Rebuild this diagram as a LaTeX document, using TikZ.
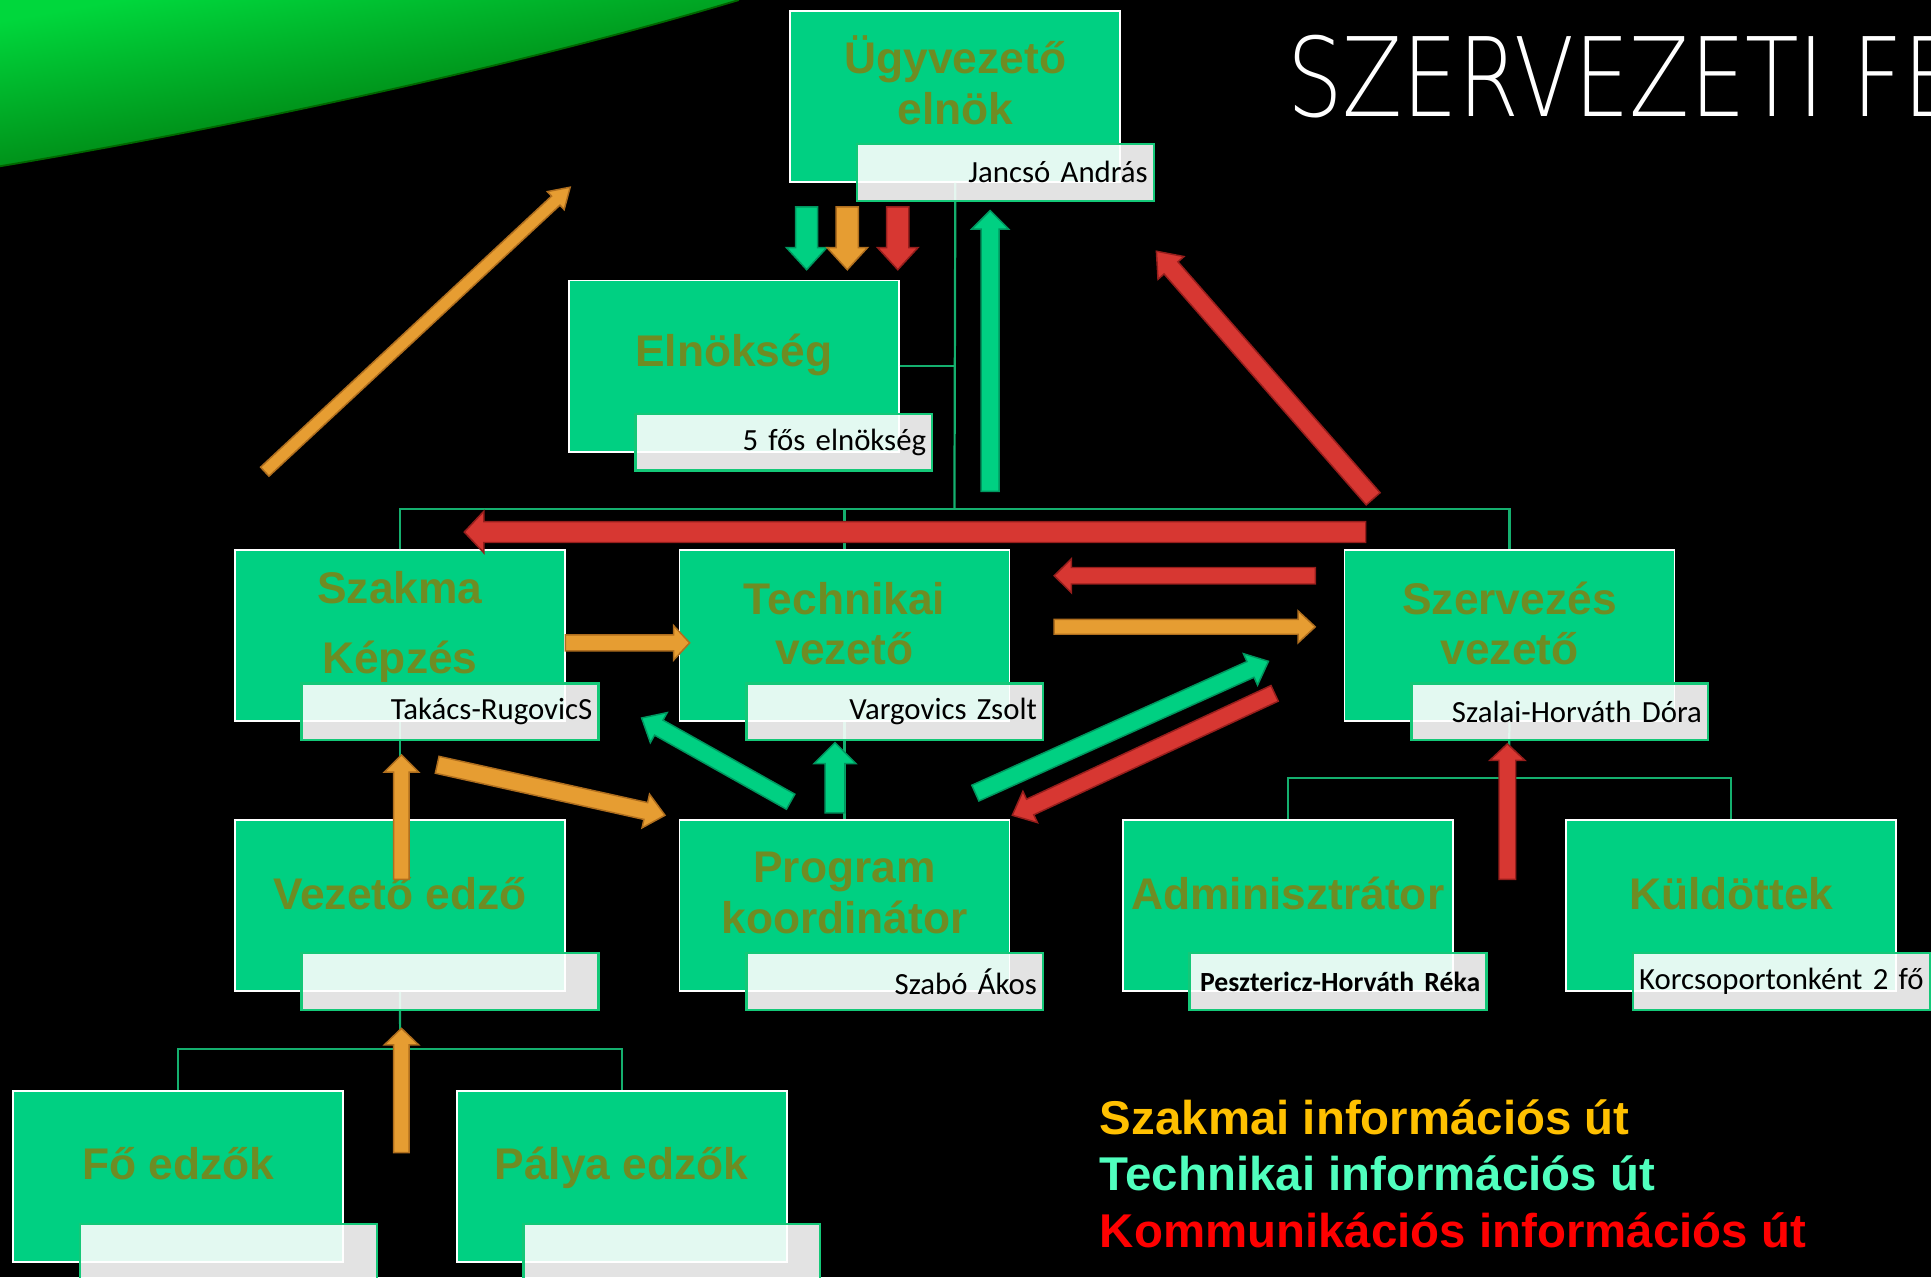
\documentclass[tikz,border=0pt]{standalone}
\usepackage{fontspec}
\setmainfont{Liberation Sans}
\newfontfamily\subfont{Carlito}[WordSpace=0.85]
\IfFontExistsTF{DejaVu Sans ExtraLight}%
  {\newfontfamily\titlefont{DejaVu Sans ExtraLight}[FakeStretch=0.8]}%
  {\IfFontExistsTF{Fira Sans Light}%
    {\newfontfamily\titlefont{Fira Sans Light}[FakeStretch=0.85]}%
    {\IfFontExistsTF{Lato Light}%
      {\newfontfamily\titlefont{Lato Light}[FakeStretch=0.85]}%
      {\newfontfamily\titlefont{DejaVu Sans}[FakeStretch=0.8]}}}
\usetikzlibrary{calc}
\definecolor{boxgreen}{RGB}{0,208,130}
\definecolor{labolive}{RGB}{110,140,35}
\definecolor{lblborder}{RGB}{20,200,120}
\definecolor{linegreen}{RGB}{20,175,110}
\definecolor{aorange}{RGB}{230,157,50}
\definecolor{aorangeD}{RGB}{175,110,30}
\definecolor{agreen}{RGB}{0,208,130}
\definecolor{agreenD}{RGB}{0,150,95}
\definecolor{ared}{RGB}{215,55,50}
\definecolor{aredD}{RGB}{150,30,28}
\definecolor{legor}{RGB}{255,192,0}
\definecolor{legaq}{RGB}{80,255,190}
\definecolor{legred}{RGB}{255,0,0}
\definecolor{swA}{RGB}{0,215,60}
\definecolor{swB}{RGB}{0,95,0}
\newcommand\barrow[6]{%
  \coordinate (bahb) at ($(#3)!#6!(#2)$);
  \filldraw[#1, line join=miter] ($(#2)!#4!90:(#3)$) -- ($(bahb)!#4!90:(#3)$) -- ($(bahb)!#5!90:(#3)$) -- (#3) -- ($(bahb)!#5!-90:(#3)$) -- ($(bahb)!#4!-90:(#3)$) -- ($(#2)!#4!-90:(#3)$) -- cycle;
}
\begin{document}
\begin{tikzpicture}[x=1pt,y=-1pt,
  gbox/.style={draw=white, line width=1.5pt, fill=boxgreen, minimum width=268pt, minimum height=139pt, anchor=north west, inner sep=0},
  gtext/.style={text=labolive, font=\bfseries\fontsize{36}{41}\selectfont, align=center, inner sep=0},
  lbox/.style={draw=lblborder, line width=2pt, fill=white, fill opacity=0.89, text opacity=1, minimum width=241pt, minimum height=46pt, anchor=north west, inner xsep=5pt, inner ysep=0, text width=231pt, align=right, font=\subfont\fontsize{25}{28}\selectfont},
  conn/.style={draw=linegreen, line width=1.8pt},
  oarr/.style={fill=aorange, draw=aorangeD, line width=1.2pt},
  garr/.style={fill=agreen, draw=agreenD, line width=1.2pt},
  rarr/.style={fill=ared, draw=aredD, line width=1.2pt},
  legend/.style={anchor=base west, inner sep=0, font=\bfseries\fontsize{38.5}{40}\selectfont}
]
\useasboundingbox (0,0) rectangle (1568,1037);
\fill[black] (0,0) rectangle (1568,1037);
% swoosh
\shade[top color=swA, bottom color=swB, shading angle=10] (0,0) -- (600,0) .. controls (400,60) and (150,110) .. (0,135) -- cycle;
\draw[green!40!black, line width=1.5pt] (600,0) .. controls (400,60) and (150,110) .. (0,135);
% title
\begin{scope}
\clip (0,0) rectangle (1568,1037);
\node[anchor=base west, text=white, inner sep=0, font=\titlefont\fontsize{89}{89}\selectfont] (title) at (1045,95) {SZERVEZETI FE};
\end{scope}
% green boxes
\node[gbox] (ugy) at (641,8) {};
\node[gbox] (eln) at (461,227) {};
\node[gbox] (szak) at (190,446) {};
\node[gbox] (tech) at (551,446) {};
\node[gbox] (szerv) at (1091,446) {};
\node[gbox] (vez) at (190,665) {};
\node[gbox] (prog) at (551,665) {};
\node[gbox] (adm) at (911,665) {};
\node[gbox] (kuld) at (1271,665) {};
\node[gbox] (fo) at (10,885) {};
\node[gbox] (palya) at (370,885) {};
% connectors
\coordinate (busC) at (775,413);
\coordinate (vbus) at (325,852);
\coordinate (sbus) at (1225,632);
\draw[conn] (ugy.south) -- (busC);
\draw[conn] (eln.east) -- (eln.east -| busC);
\draw[conn] (szak.north) |- (busC) -| (szerv.north);
\draw[conn] (tech.north) -- (tech.north |- busC);
\draw[conn] (tech.south) -- (prog.north);
\draw[conn] (szak.south) -- (vez.north);
\draw[conn] (vez.south) -- (vbus);
\draw[conn] (fo.north) |- (vbus) -| (palya.north);
\draw[conn] (szerv.south) -- (sbus);
\draw[conn] (adm.north) |- (sbus) -| (kuld.north);
% box titles
\node[gtext] (ugyt) at ([yshift=13pt]ugy.center) {Ügyvezető\\elnök};
\node[gtext] (elnt) at ([yshift=9pt]eln.center) {Elnökség};
\node[gtext] (szakt) at ([yshift=7pt]szak.center) {Szakma\\[16pt]Képzés};
\node[gtext] (techt) at ([yshift=10pt]tech.center) {Technikai\\vezető};
\node[gtext] (szervt) at ([yshift=10pt]szerv.center) {Szervezés\\vezető};
\node[gtext] (vezt) at ([yshift=10pt]vez.center) {Vezető edző};
\node[gtext] (progt) at ([yshift=10pt]prog.center) {Program\\koordinátor};
\node[gtext] (admt) at ([yshift=10pt]adm.center) {Adminisztrátor};
\node[gtext] (kuldt) at ([yshift=10pt]kuld.center) {Küldöttek};
\node[gtext] (fot) at ([yshift=10pt]fo.center) {Fő edzők};
\node[gtext] (palyat) at ([yshift=7pt]palya.center) {Pálya edzők};
% subtitle boxes
\node[lbox] (ugyl) at ([xshift=54pt,yshift=-108pt]ugy.north west) {Jancsó András};
\node[lbox] (elnl) at ([xshift=54pt,yshift=-108pt]eln.north west) {5 fős elnökség};
\node[lbox] (szakl) at ([xshift=54pt,yshift=-108pt]szak.north west) {Takács-RugovicS};
\node[lbox] (techl) at ([xshift=54pt,yshift=-108pt]tech.north west) {Vargovics Zsolt};
\node[lbox] (szervl) at ([xshift=54pt,yshift=-108pt]szerv.north west) {Szalai-Horváth Dóra};
\node[lbox] (vezl) at ([xshift=54pt,yshift=-108pt]vez.north west) {};
\node[lbox] (progl) at ([xshift=54pt,yshift=-108pt]prog.north west) {Szabó Ákos};
\node[lbox] (adml) at ([xshift=54pt,yshift=-108pt]adm.north west) {\bfseries\fontsize{22.5}{26}\selectfont Pesztericz-Horváth Réka};
\node[lbox] (kuldl) at ([xshift=54pt,yshift=-108pt]kuld.north west) {Korcsoportonként 2 fő};
\node[lbox] (fol) at ([xshift=54pt,yshift=-108pt]fo.north west) {};
\node[lbox] (palyal) at ([xshift=54pt,yshift=-108pt]palya.north west) {};
% arrow end points
\coordinate (a1t) at (655,168); \coordinate (a1h) at (655,219);
\coordinate (a2t) at (688,168); \coordinate (a2h) at (688,219);
\coordinate (a3t) at (729,168); \coordinate (a3h) at (729,219);
\coordinate (a4t) at (804,399); \coordinate (a4h) at (804,171);
\coordinate (a5t) at (215,383); \coordinate (a5h) at (463,152);
\coordinate (a6t) at (1115,405); \coordinate (a6h) at (939,204);
\coordinate (a7t) at (1109,432); \coordinate (a7h) at (377,432);
\coordinate (a8t) at (1068,467.5); \coordinate (a8h) at (856,467.5);
\coordinate (a9t) at (856,509); \coordinate (a9h) at (1068,509);
\coordinate (a10t) at (459,522); \coordinate (a10h) at (560,522);
\coordinate (a11t) at (792,644); \coordinate (a11h) at (1030,537);
\coordinate (a12t) at (1035,563); \coordinate (a12h) at (822,662);
\coordinate (a13t) at (642,651); \coordinate (a13h) at (521,583);
\coordinate (a14t) at (678,660); \coordinate (a14h) at (678,603);
\coordinate (a15t) at (355,621); \coordinate (a15h) at (540,662);
\coordinate (a16t) at (326,714); \coordinate (a16h) at (326,613);
\coordinate (a17t) at (326,936); \coordinate (a17h) at (326,835);
\coordinate (a18t) at (1224,714); \coordinate (a18h) at (1224,604);
% arrows
\barrow{garr}{a1t}{a1h}{9pt}{16.5pt}{18pt}
\barrow{oarr}{a2t}{a2h}{9pt}{16.5pt}{18pt}
\barrow{rarr}{a3t}{a3h}{9pt}{16.5pt}{18pt}
\barrow{garr}{a4t}{a4h}{7.3pt}{15pt}{15pt}
\barrow{oarr}{a5t}{a5h}{5pt}{10pt}{16pt}
\barrow{rarr}{a6t}{a6h}{7.5pt}{14pt}{18pt}
\barrow{rarr}{a7t}{a7h}{8.5pt}{17pt}{16pt}
\barrow{rarr}{a8t}{a8h}{6.7pt}{13.8pt}{14pt}
\barrow{oarr}{a9t}{a9h}{6pt}{13pt}{14pt}
\barrow{oarr}{a10t}{a10h}{6.5pt}{14pt}{13pt}
\barrow{garr}{a11t}{a11h}{7pt}{14pt}{16pt}
\barrow{rarr}{a12t}{a12h}{7pt}{14pt}{16pt}
\barrow{garr}{a13t}{a13h}{7pt}{14pt}{16pt}
\barrow{garr}{a14t}{a14h}{8pt}{17pt}{17pt}
\barrow{oarr}{a15t}{a15h}{7pt}{14pt}{16pt}
\barrow{oarr}{a16t}{a16h}{6.3pt}{14pt}{14pt}
\barrow{oarr}{a17t}{a17h}{6.3pt}{14pt}{13.5pt}
\barrow{rarr}{a18t}{a18h}{6.8pt}{14.4pt}{13.5pt}
% legend
\node[legend, text=legor] (leg1) at (893,921) {Szakmai információs út};
\node[legend, text=legaq] (leg2) at (893,967) {Technikai információs út};
\node[legend, text=legred] (leg3) at (893,1013) {Kommunikációs információs út};
\end{tikzpicture}
\end{document}
